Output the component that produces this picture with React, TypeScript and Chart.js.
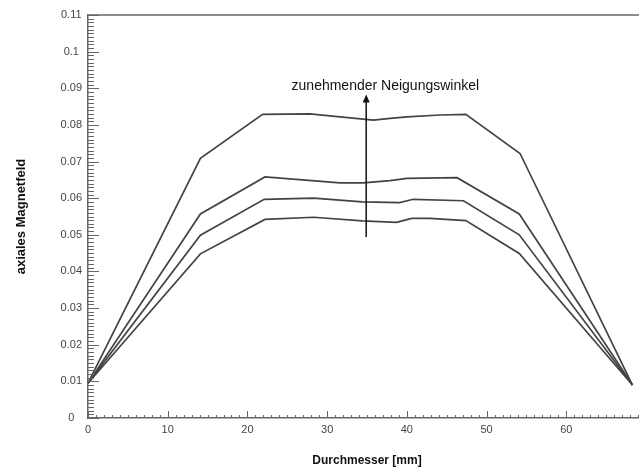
import React, { useEffect, useRef } from "react";
import { Chart, registerables } from "chart.js";

Chart.register(...registerables);

// Axis ranges and tick steps
const xMin = 0;
const xMax = 70;
const xStep = 10;
const xMinorStep = 1;
const yMin = 0;
const yMax = 0.11;
const yStep = 0.01;
const yMinorStep = 0.001;

// Durchmesser [mm] / axiales Magnetfeld, one curve per Neigungswinkel
const curve1X = [0, 14.1, 22.2, 28.3, 34.4, 38.7, 40.6, 42.9, 47.4, 54.1, 68.3];
const curve1Y = [0.0095, 0.0448, 0.0542, 0.0548, 0.0538, 0.0534, 0.0545, 0.0545, 0.0539, 0.0449, 0.009];

const curve2X = [0, 14.1, 22.1, 28.3, 34.4, 39.1, 40.8, 47.1, 54.1, 68.3];
const curve2Y = [0.0095, 0.0499, 0.0597, 0.06, 0.059, 0.0588, 0.0597, 0.0593, 0.05, 0.009];

const curve3X = [0, 14.1, 22.2, 31.6, 34.5, 37.9, 40.0, 46.3, 54.1, 68.3];
const curve3Y = [0.0095, 0.0557, 0.0658, 0.0642, 0.0642, 0.0648, 0.0654, 0.0656, 0.0557, 0.009];

const curve4X = [0, 14.1, 21.9, 27.8, 35.8, 37.9, 40.0, 44.2, 47.4, 54.2, 68.3];
const curve4Y = [0.0095, 0.0709, 0.0829, 0.083, 0.0813, 0.0818, 0.0822, 0.0827, 0.0829, 0.0722, 0.009];

// Annotation: arrow and its caption, in data units
const arrowX = 34.9;
const arrowFromY = 0.0494;
const arrowToY = 0.0883;
const captionX = 37.3;
const captionY = 0.0907;
const captionText = "zunehmender Neigungswinkel";

const xTitle = "Durchmesser [mm]";
const yTitle = "axiales Magnetfeld";

const toPoints = (xs: number[], ys: number[]) => xs.map((x, i) => ({ x, y: ys[i] }));

const LINE_COLOR = "#444444";
const AXIS_COLOR = "#666666";
const FONT = "'Liberation Sans', Arial, sans-serif";

// Inward major/minor tick marks, top frame line and the annotation arrow
const decorations = {
  id: "decorations",
  afterDatasetsDraw(chart: any) {
    const { ctx, chartArea, scales } = chart;
    const xs = scales.x;
    const ys = scales.y;
    ctx.save();
    ctx.strokeStyle = AXIS_COLOR;
    ctx.lineWidth = 1;

    // y ticks
    const yCount = Math.round((yMax - yMin) / yMinorStep);
    for (let i = 0; i <= yCount; i++) {
      const v = yMin + i * yMinorStep;
      const major = i % Math.round(yStep / yMinorStep) === 0;
      const py = Math.round(ys.getPixelForValue(v)) + 0.5;
      ctx.beginPath();
      ctx.moveTo(chartArea.left, py);
      ctx.lineTo(chartArea.left + (major ? 11 : 6), py);
      ctx.stroke();
    }
    // x ticks
    const xCount = Math.round((xMax - xMin) / xMinorStep);
    for (let i = 0; i <= xCount; i++) {
      const v = xMin + i * xMinorStep;
      const major = i % Math.round(xStep / xMinorStep) === 0;
      const px = Math.round(xs.getPixelForValue(v)) + 0.5;
      ctx.beginPath();
      ctx.moveTo(px, chartArea.bottom);
      ctx.lineTo(px, chartArea.bottom - (major ? 7 : 3));
      ctx.stroke();
    }

    // top frame line
    ctx.lineWidth = 1.5;
    ctx.beginPath();
    ctx.moveTo(chartArea.left, chartArea.top);
    ctx.lineTo(chartArea.right, chartArea.top);
    ctx.stroke();

    // arrow
    const ax = xs.getPixelForValue(arrowX);
    const ay0 = ys.getPixelForValue(arrowFromY);
    const ay1 = ys.getPixelForValue(arrowToY);
    ctx.strokeStyle = "#111";
    ctx.fillStyle = "#111";
    ctx.lineWidth = 1.5;
    ctx.beginPath();
    ctx.moveTo(ax, ay0);
    ctx.lineTo(ax, ay1 + 6);
    ctx.stroke();
    ctx.beginPath();
    ctx.moveTo(ax, ay1);
    ctx.lineTo(ax - 3.5, ay1 + 8);
    ctx.lineTo(ax + 3.5, ay1 + 8);
    ctx.closePath();
    ctx.fill();

    // caption
    ctx.font = `14px ${FONT}`;
    ctx.textAlign = "center";
    ctx.textBaseline = "middle";
    ctx.fillStyle = "#111";
    ctx.fillText(captionText, xs.getPixelForValue(captionX), ys.getPixelForValue(captionY));
    ctx.restore();
  },
};

export default function App() {
  const canvasRef = useRef<HTMLCanvasElement | null>(null);

  useEffect(() => {
    const canvas = canvasRef.current;
    if (!canvas) return;
    const series = [
      toPoints(curve1X, curve1Y),
      toPoints(curve2X, curve2Y),
      toPoints(curve3X, curve3Y),
      toPoints(curve4X, curve4Y),
    ];
    const chart = new Chart(canvas, {
      type: "line",
      data: {
        datasets: series.map((data) => ({
          data,
          borderColor: LINE_COLOR,
          borderWidth: 1.7,
          pointRadius: 0,
          tension: 0,
          fill: false,
        })),
      },
      options: {
        animation: false,
        responsive: false,
        devicePixelRatio: 1,
        layout: { padding: { top: 15, left: 0, right: 0, bottom: 0 } },
        plugins: {
          legend: { display: false },
          tooltip: { enabled: false },
        },
        scales: {
          x: {
            type: "linear",
            min: xMin,
            max: xMax,
            grid: { display: false, drawTicks: false },
            border: { display: true, color: AXIS_COLOR, width: 1.5 },
            ticks: {
              stepSize: xStep,
              padding: 5,
              color: "#444",
              font: { family: FONT, size: 11 },
              maxRotation: 0,
            },
            title: {
              display: true,
              text: xTitle,
              color: "#111",
              font: { family: FONT, size: 12, weight: "bold" },
              padding: { top: 0, bottom: 2 },
            },
            afterFit(scale: any) {
              scale.height = 52;
              scale.paddingLeft = 0;
              scale.paddingRight = 0;
            },
          },
          y: {
            type: "linear",
            min: yMin,
            max: yMax,
            grid: { display: false, drawTicks: false },
            border: { display: true, color: AXIS_COLOR, width: 1.5 },
            ticks: {
              stepSize: yStep,
              padding: 6,
              crossAlign: "center",
              color: "#444",
              font: { family: FONT, size: 11 },
              callback: (v: any) => String(Math.round(Number(v) * 100) / 100),
            },
            title: {
              display: true,
              text: yTitle,
              color: "#111",
              font: { family: FONT, size: 13, weight: "bold" },
              padding: { top: 14, bottom: 0 },
            },
            afterFit(scale: any) {
              scale.width = 88;
              scale.paddingTop = 0;
              scale.paddingBottom = 0;
            },
          },
        },
      },
      plugins: [decorations],
    });
    return () => chart.destroy();
  }, []);

  return (
    <div
      style={{
        position: "fixed",
        left: 0,
        top: 0,
        width: 639,
        height: 470,
        overflow: "hidden",
        background: "#fff",
      }}
    >
      <canvas ref={canvasRef} width={646} height={470} style={{ display: "block" }} />
    </div>
  );
}
